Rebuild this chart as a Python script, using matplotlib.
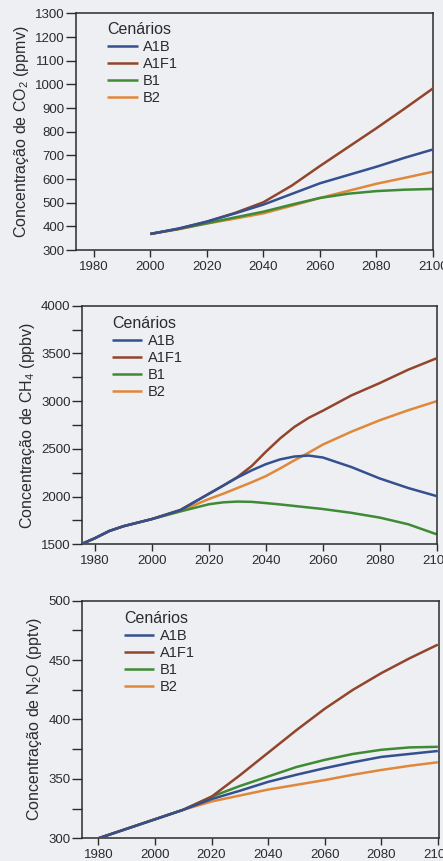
import matplotlib
matplotlib.use("Agg")
import matplotlib.pyplot as plt

plt.rcParams['font.family'] = ['Liberation Sans', 'DejaVu Sans']
plt.rcParams['mathtext.fontset'] = 'custom'
plt.rcParams['mathtext.rm'] = 'Liberation Sans'

scenarios = ['A1B', 'A1F1', 'B1', 'B2']
colors = {'A1B': '#34508f', 'A1F1': '#93452c', 'B1': '#3f8a35', 'B2': '#e0883a'}
zorders = {'A1B': 4, 'A1F1': 3, 'B1': 2.5, 'B2': 2}

# CO2 (ppmv)
co2_years = [2000, 2010, 2020, 2030, 2040, 2050, 2060, 2070, 2080, 2090, 2100]
co2 = {
    'A1B':  [368, 391, 420, 455, 492, 537, 582, 617, 652, 690, 725],
    'A1F1': [368, 390, 420, 457, 502, 572, 655, 735, 815, 898, 983],
    'B1':   [368, 389, 413, 438, 462, 492, 520, 538, 549, 555, 558],
    'B2':   [368, 388, 412, 433, 455, 487, 520, 550, 580, 605, 631],
}

# CH4 (ppbv)
ch4_years = [1975, 1980, 1985, 1990, 2000, 2010, 2020, 2025, 2030, 2035, 2040, 2045,
             2050, 2055, 2060, 2070, 2080, 2090, 2100]
ch4 = {
    'A1B':  [1500, 1565, 1640, 1690, 1765, 1860, 2030, 2115, 2200, 2275, 2340, 2390,
             2420, 2430, 2410, 2310, 2190, 2090, 2005],
    'A1F1': [1500, 1565, 1640, 1690, 1765, 1860, 2030, 2115, 2205, 2320, 2470, 2610,
             2730, 2825, 2900, 3060, 3190, 3330, 3450],
    'B1':   [1500, 1565, 1640, 1690, 1765, 1845, 1920, 1940, 1948, 1945, 1932, 1918,
             1902, 1886, 1870, 1830, 1780, 1710, 1605],
    'B2':   [1500, 1565, 1640, 1690, 1765, 1850, 1975, 2030, 2090, 2150, 2215, 2295,
             2380, 2460, 2545, 2680, 2800, 2905, 3000],
}

# N2O (pptv)
n2o_years = [1980, 1990, 2000, 2010, 2020, 2030, 2040, 2050, 2060, 2070, 2080, 2090, 2100]
n2o = {
    'A1B':  [300, 308, 316, 324, 333, 340, 347.5, 353.5, 359, 364, 368.5, 371, 373.5],
    'A1F1': [300, 308, 316, 324, 335, 353, 372, 391, 409, 425, 439, 451.5, 463],
    'B1':   [300, 308, 316, 324, 335, 344, 352, 360, 366, 371, 374.5, 376.5, 377],
    'B2':   [300, 308, 316, 324, 331, 336, 341, 345, 349, 353.5, 357.5, 361, 364],
}

x_ticks = [1980, 2000, 2020, 2040, 2060, 2080, 2100]

bg = '#edeff3'
ink = '#2b2b2b'

fig = plt.figure(figsize=(4.43, 8.61), dpi=100, facecolor=bg)

panels = [
    dict(rect=[0.1716, 0.7096, 0.8059, 0.2749], years=co2_years, data=co2,
         xlim=(1973.7, 2100), ylim=(300, 1300), major=list(range(300, 1301, 100)), minor=[],
         ylabel='Concentração de CO$_\\mathregular{2}$ (ppmv)', leg=(0.088, 0.962)),
    dict(rect=[0.1844, 0.3678, 0.8014, 0.2771], years=ch4_years, data=ch4,
         xlim=(1975.3, 2100), ylim=(1500, 4000), major=list(range(1500, 4001, 500)),
         minor=list(range(1750, 4000, 500)),
         ylabel='Concentração de CH$_\\mathregular{4}$ (ppbv)', leg=(0.085, 0.955)),
    dict(rect=[0.1844, 0.02636, 0.8065, 0.2760], years=n2o_years, data=n2o,
         xlim=(1974.1, 2100.4), ylim=(300, 500), major=list(range(300, 501, 50)),
         minor=list(range(325, 500, 50)),
         ylabel='Concentração de N$_\\mathregular{2}$O (pptv)', leg=(0.118, 0.955)),
]

for p in panels:
    ax = fig.add_axes(p['rect'])
    ax.set_facecolor('none')
    for s in scenarios:
        ax.plot(p['years'], p['data'][s], color=colors[s], lw=1.8, label=s,
                zorder=zorders[s], solid_capstyle='butt', solid_joinstyle='round')
    ax.set_xlim(*p['xlim'])
    ax.set_ylim(*p['ylim'])
    ax.set_xticks(x_ticks)
    ax.set_yticks(p['major'])
    ax.set_yticks(p['minor'], minor=True)
    for sp in ax.spines.values():
        sp.set_color(ink)
        sp.set_linewidth(1.1)
    ax.tick_params(axis='both', which='both', direction='out', color=ink,
                   width=1.0, labelsize=9.5, labelcolor=ink)
    ax.tick_params(axis='y', which='both', length=7, pad=1)
    ax.tick_params(axis='x', length=5, pad=3)
    ax.set_ylabel(p['ylabel'], fontsize=11.5, color=ink, labelpad=3)
    handles, labels = ax.get_legend_handles_labels()
    leg = ax.legend(handles, labels, title='Cenários', loc='upper left',
                    bbox_to_anchor=p['leg'], frameon=False, fontsize=10.5,
                    title_fontsize=11.5, handlelength=2.1, handletextpad=0.35,
                    labelspacing=0.2, borderpad=0, borderaxespad=0,
                    alignment='left')
    for t in leg.get_texts():
        t.set_color(ink)
    leg.get_title().set_color(ink)

fig.savefig('out.png', dpi=100, facecolor=bg)
